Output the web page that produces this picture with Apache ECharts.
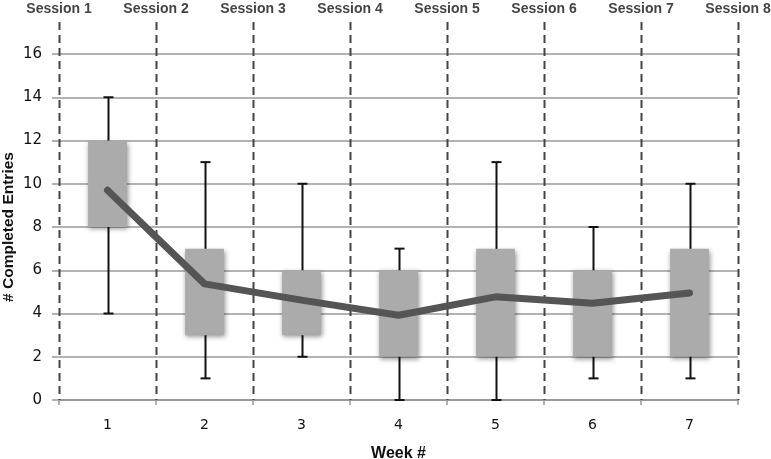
<!DOCTYPE html>
<html>
<head>
<meta charset="utf-8">
<script src="https://cdn.jsdelivr.net/npm/echarts@6/dist/echarts.min.js"></script>
<style>html,body{margin:0;padding:0;background:#fff}#c{width:771px;height:459px}</style>
</head>
<body>
<div id="c"></div>
<script>
const weeks = ['1', '2', '3', '4', '5', '6', '7'];
const whiskerMin = [4, 1, 2, 0, 0, 1, 1];
const q1 = [8, 3, 3, 2, 2, 2, 2];
const q3 = [12, 7, 6, 6, 7, 6, 7];
const whiskerMax = [14, 11, 10, 7, 11, 8, 10];
const means = [9.7, 5.37, 4.62, 3.92, 4.77, 4.47, 4.95];
const sessions = ['Session 1', 'Session 2', 'Session 3', 'Session 4', 'Session 5', 'Session 6', 'Session 7', 'Session 8'];
const yTicks = { min: 0, max: 16, interval: 2 };

const chart = echarts.init(document.getElementById('c'), null, { renderer: 'canvas' });
const FONT = 'Liberation Sans';
const TICKFONT = 'DejaVu Sans';

const boxData = weeks.map((w, i) => [i, q1[i], q3[i]]);
const whiskerData = weeks.map((w, i) => [i, whiskerMin[i], whiskerMax[i]]);
const sessionData = sessions.map((s, i) => [i]);

chart.setOption({
  animation: false,
  grid: { left: 59, right: 33, top: 54, bottom: 59, containLabel: false, outerBoundsMode: 'none' },
  xAxis: [
    {
      type: 'category', data: weeks, position: 'bottom', boundaryGap: true,
      axisLine: { show: true, lineStyle: { color: '#999', width: 2 } },
      axisTick: { show: true, length: 5, lineStyle: { color: '#999', width: 1.5 } },
      axisLabel: { color: '#111', fontSize: 14, fontFamily: TICKFONT, margin: 18 },
      splitLine: { show: false },
      name: 'Week #', nameLocation: 'middle', nameGap: 46, nameMoveOverlap: false,
      nameTextStyle: { fontWeight: 'bold', fontSize: 16, color: '#111', fontFamily: FONT }
    },
    {
      type: 'category', data: sessions, position: 'top', boundaryGap: false,
      axisLine: { show: false }, axisTick: { show: false },
      axisLabel: { color: '#444', fontSize: 14, fontWeight: 'bold', fontFamily: FONT, margin: 38, interval: 0 },
      splitLine: { show: false }
    }
  ],
  yAxis: {
    type: 'value', min: yTicks.min, max: yTicks.max, interval: yTicks.interval,
    axisLine: { show: false },
    axisTick: { show: true, length: 7, lineStyle: { color: '#999', width: 1.5 } },
    axisLabel: { color: '#111', fontSize: 15, fontFamily: TICKFONT, margin: 17 },
    splitLine: { show: true, lineStyle: { color: '#9a9a9a', width: 1.5 } },
    name: '# Completed Entries', nameLocation: 'middle', nameGap: 42, nameMoveOverlap: false,
    nameTextStyle: { fontWeight: 'bold', fontSize: 15.5, color: '#111', fontFamily: FONT }
  },
  series: [
    {
      type: 'custom', name: 'sessions', xAxisIndex: 0, data: sessionData, z: 1, clip: false,
      renderItem: function (params, api) {
        const i = api.value(0);
        const band = api.size([1, 0])[0];
        const c0 = api.coord([0, 0]);
        const top = api.coord([0, yTicks.max]);
        const x = Math.round(c0[0] - band / 2 + i * band) + 0.5;
        return {
          type: 'line',
          shape: { x1: x, y1: top[1] - 32, x2: x, y2: c0[1] },
          style: { stroke: '#444', lineWidth: 2, lineDash: [8, 5] }
        };
      }
    },
    {
      type: 'custom', name: 'whiskers', data: whiskerData, z: 2,
      renderItem: function (params, api) {
        const i = api.value(0);
        const lo = api.coord([i, api.value(1)]);
        const hi = api.coord([i, api.value(2)]);
        const x = Math.round(lo[0]) + 0.5;
        const cap = 5;
        const st = { stroke: '#111', lineWidth: 2 };
        return {
          type: 'group',
          children: [
            { type: 'line', shape: { x1: x, y1: lo[1], x2: x, y2: hi[1] }, style: st },
            { type: 'line', shape: { x1: x - cap, y1: lo[1], x2: x + cap, y2: lo[1] }, style: st },
            { type: 'line', shape: { x1: x - cap, y1: hi[1], x2: x + cap, y2: hi[1] }, style: st }
          ]
        };
      }
    },
    {
      type: 'custom', name: 'boxes', data: boxData, z: 3,
      renderItem: function (params, api) {
        const i = api.value(0);
        const lo = api.coord([i, api.value(1)]);
        const hi = api.coord([i, api.value(2)]);
        const band = api.size([1, 0])[0];
        const w = band * 0.4;
        return {
          type: 'rect',
          shape: { x: lo[0] - w / 2, y: hi[1], width: w, height: lo[1] - hi[1] },
          style: {
            fill: '#ababab',
            shadowBlur: 5, shadowColor: 'rgba(0,0,0,0.45)', shadowOffsetX: 1, shadowOffsetY: 2
          }
        };
      }
    },
    {
      type: 'line', name: 'mean', data: means, z: 4,
      symbol: 'none', smooth: false,
      lineStyle: { color: '#555', width: 7, cap: 'round', join: 'round' }
    }
  ]
});
</script>
</body>
</html>
